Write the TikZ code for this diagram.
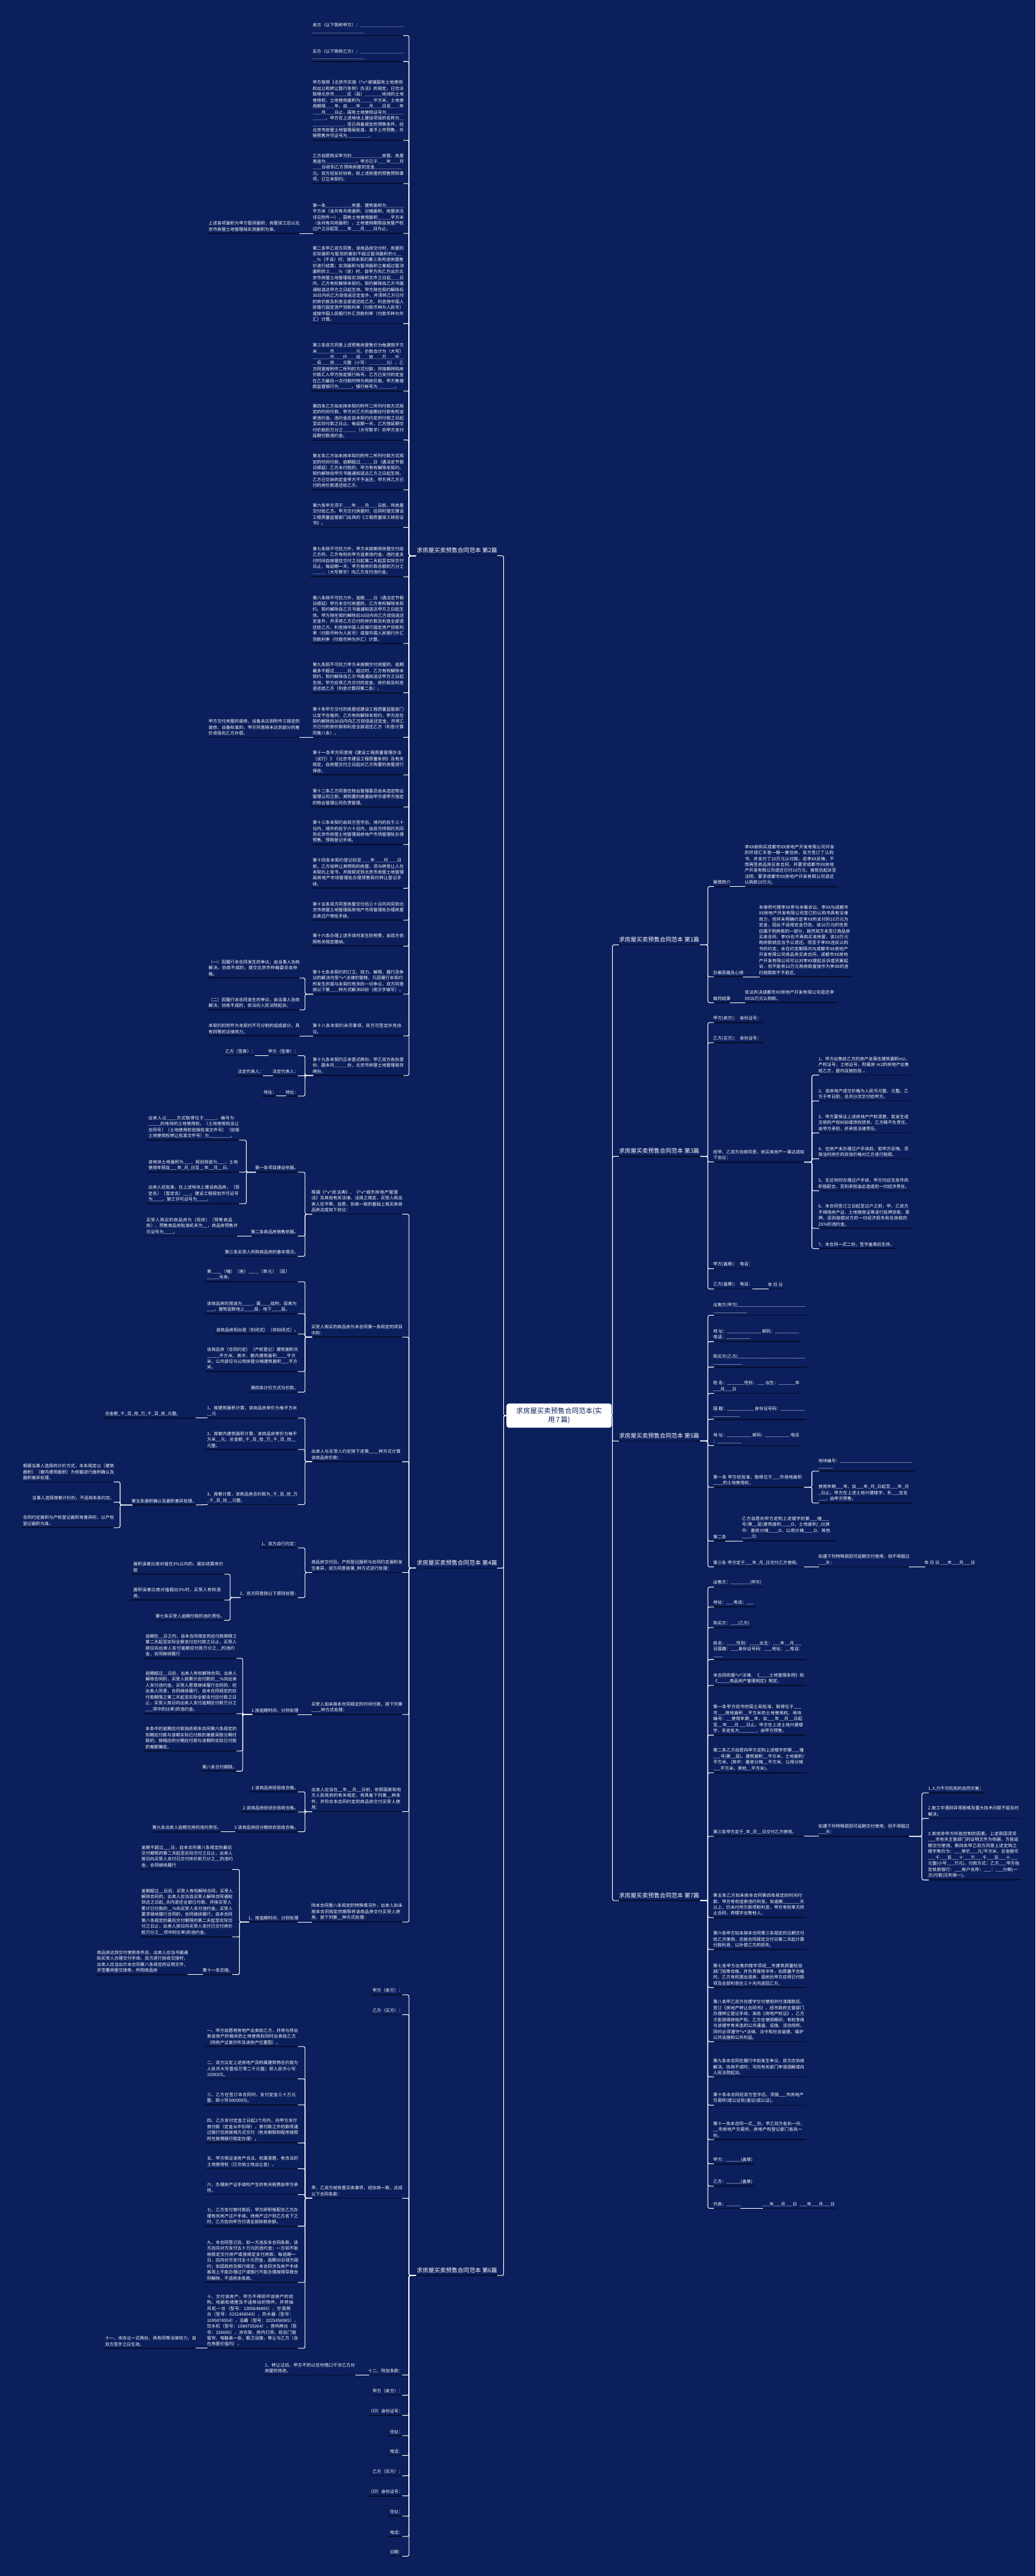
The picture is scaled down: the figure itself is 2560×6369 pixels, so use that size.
\documentclass[tikz,border=0pt]{standalone}
\usepackage{fontspec}
\newfontfamily\cjk{Noto Sans CJK SC}
\XeTeXlinebreaklocale "zh"
\XeTeXlinebreakskip=0pt plus 1pt
\definecolor{bg}{RGB}{11,31,92}
\definecolor{ul}{RGB}{5,13,44}
\tikzset{
 leaf/.style={font=\cjk\fontsize{10.7}{14.7}\selectfont, text=white, inner xsep=4pt, inner ysep=5pt, align=left},
 tw/.style={text width=226pt},
 sec/.style={font=\cjk\fontsize{14.4}{17}\selectfont, text=white, inner xsep=8pt, inner ysep=6pt},
 rootbox/.style={fill=white, text=bg, rounded corners=6pt, font=\cjk\fontsize{17}{22}\selectfont, text width=224pt, align=center, inner xsep=18pt, inner ysep=10pt},
 uline/.style={draw=ul, line width=2.6pt},
 conn/.style={draw=white, line width=1.6pt, rounded corners=4pt},
}
\newcommand\RLeaf[5][]{\node[leaf,anchor=south west,#1] (#2) at (#3,#4) {#5};\draw[uline] (#2.south west) -- (#2.south east);}
\newcommand\LLeaf[5][]{\node[leaf,anchor=south east,#1] (#2) at (#3,#4) {#5};\draw[uline] (#2.south west) -- (#2.south east);}
\newcommand\ConR[3]{\foreach \kid in {#3}{\draw[conn] ([xshift=-6pt]#1.south east) -- (#1.south east -| #2) |- ([xshift=6pt]\kid.south west);}}
\newcommand\ConL[3]{\foreach \kid in {#3}{\draw[conn] ([xshift=6pt]#1.south west) -- (#1.south west -| #2) |- ([xshift=-6pt]\kid.south east);}}
\newcommand\ConDR[2]{\draw[conn] ([xshift=-6pt]#1.south east) -- ([xshift=6pt]#2.south west);}
\newcommand\ConDL[2]{\draw[conn] ([xshift=6pt]#1.south west) -- ([xshift=-6pt]#2.south east);}
\AtBeginDocument{\catcode`\_=12 \catcode`\^=12 }
\begin{document}
\begin{tikzpicture}[x=1pt,y=-1pt]
\fill[bg] (0,0) rectangle (2560,6369);
\useasboundingbox (0,0) rectangle (2560,6369);
% buses
\coordinate (bL) at (1245,0);
\coordinate (bR) at (1514,0);
\coordinate (bLL) at (1011,0);
\coordinate (bLm) at (754,0);
\coordinate (bRR) at (1750,0);
\coordinate (bRm) at (2007,0);
\coordinate (bA1) at (609,0);
\coordinate (bC3) at (297,0);
\coordinate (bD2) at (569,0);
\coordinate (bE1) at (600,0);
\coordinate (bG1) at (592,0);
\coordinate (bG3) at (2279,0);

% root
\node[rootbox] (root) at (1382,3500) {求房屋买卖预售合同范本(实\\用7篇)};

% section nodes
\node[sec,anchor=south east] (s2) at (1237,1374) {求房屋买卖预售合同范本 第2篇};
\draw[uline] (s2.south west) -- (s2.south east);
\node[sec,anchor=south east] (s4) at (1237,3877) {求房屋买卖预售合同范本 第4篇};
\draw[uline] (s4.south west) -- (s4.south east);
\node[sec,anchor=south east] (s6) at (1237,5626) {求房屋买卖预售合同范本 第6篇};
\draw[uline] (s6.south west) -- (s6.south east);
\node[sec,anchor=south west] (s1) at (1522,2336) {求房屋买卖预售合同范本 第1篇};
\draw[uline] (s1.south west) -- (s1.south east);
\node[sec,anchor=south west] (s3) at (1522,2859) {求房屋买卖预售合同范本 第3篇};
\draw[uline] (s3.south west) -- (s3.south east);
\node[sec,anchor=south west] (s5) at (1522,3563) {求房屋买卖预售合同范本 第5篇};
\draw[uline] (s5.south west) -- (s5.south east);
\node[sec,anchor=south west] (s7) at (1522,4699) {求房屋买卖预售合同范本 第7篇};
\draw[uline] (s7.south west) -- (s7.south east);

% ===== section 2 =====
\LLeaf[tw]{A1}{1003}{88}{卖方（以下简称甲方）：＿＿＿＿＿＿＿＿＿＿＿＿＿＿＿＿＿＿＿＿＿＿}
\LLeaf[tw]{A2}{1003}{152}{买方（以下简称乙方）：＿＿＿＿＿＿＿＿＿＿＿＿＿＿＿＿＿＿＿＿＿＿}
\LLeaf[tw]{A3}{1003}{347}{甲方按照《北京市实施〈^v^城镇国有土地使用权出让和转让暂行条例〉办法》的规定，已合法取得北京市＿＿＿区（县）＿＿＿＿地块的土地使用权，土地使用面积为＿＿＿平方米，土地使用期限＿＿年，自＿＿年＿＿月＿＿日至＿＿年＿＿月＿＿日止，国有土地使用证号为＿＿＿＿＿＿＿。甲方在上述地块上建设项目的名称为＿＿＿＿＿＿＿＿，现已具备规定的预售条件，经北京市房屋土地管理局批准，准予上市预售，外销预售许可证号为＿＿＿＿＿。}
\LLeaf[tw]{A4}{1003}{454}{乙方自愿购买甲方的＿＿＿＿＿＿＿房屋，房屋用途为＿＿＿＿＿＿＿。甲方已于＿＿年＿＿月＿＿日收到乙方预购房屋的定金＿＿＿＿＿＿元。双方经友好协商，就上述房屋的预售预购事项，订立本契约。}
\LLeaf[tw]{A5}{1003}{577}{第一条＿＿＿＿＿＿房屋，建筑面积为＿＿＿＿平方米（含共有共用面积、分摊面积、房屋状况详见附件一），国有土地使用面积＿＿＿平方米（含共有共用面积），土地使用期限自房屋产权过户之日起至＿＿年＿＿月＿＿日为止。}
\LLeaf[tw]{A5a}{746}{577}{上述各项面积为甲方暂测面积，房屋竣工后以北京市房屋土地管理局实测面积为准。}
\LLeaf[tw]{A6}{1003}{800}{第二条甲乙双方同意，该商品房交付时，房屋的实际面积与暂测的差别不超过暂测面积的±＿＿\%（不含）时，按照本契约第三条所述房屋售价进行结算；实测面积与暂测面积之差超过暂测面积的±＿＿\%（含）时，自甲方向乙方出示北京市房屋土地管理局实测面积文件之日起＿＿日内，乙方有权解除本契约。契约解除自乙方书面通知送达甲方之日起生效。甲方除在契约解除后30日内向乙方双倍返还定金外，并须将乙方已付的房价款及利息全部退还给乙方。利息按中国人民银行固定资产贷款利率（付款币种为人民币）或按中国人民银行外汇贷款利率（付款币种为外汇）计算。}
\LLeaf[tw]{A7}{1003}{967}{第三条双方同意上述预售房屋售价为每建筑平方米＿＿＿币＿＿＿＿＿元，价款合计为（大写）＿＿＿＿币＿＿仟＿＿佰＿＿拾＿＿万＿＿仟＿＿佰＿＿拾＿＿元整（小写：＿＿＿＿元）。乙方同意按附件二所列的方式付款，并按期将购房价款汇入甲方指定银行帐号。乙方已支付的定金在乙方最后一次付款时转为购房价款。甲方售楼款监管银行为＿＿＿，银行帐号为＿＿＿＿。}
\LLeaf[tw]{A8}{1003}{1088}{第四条乙方如未按本契约附件二所列付款方式规定的时间付款，甲方对乙方的逾期应付款有权追索违约金。违约金应自本契约约定的付款之日起至实际付款之日止。每延期一天，乙方按延期交付价款的万分之＿＿＿（大写数字）向甲方支付延期付款违约金。}
\LLeaf[tw]{A9}{1003}{1211}{第五条乙方如未按本契约附件二所列付款方式规定的时间付款，逾期超过＿＿＿日（遇法定节假日顺延）乙方未付款的，甲方有权解除本契约。契约解除自甲方书面通知送达乙方之日起生效。乙方已交纳的定金甲方不予返还。甲方将乙方已付的房价款退还给乙方。}
\LLeaf[tw]{A10}{1003}{1304}{第六条甲方须于＿＿年＿＿月＿＿日前，将房屋交付给乙方。甲方交付房屋时，应同时提交建设工程质量监管部门出具的《工程质量竣工核验证书》。}
\LLeaf[tw]{A11}{1003}{1426}{第七条除不可抗力外，甲方未按期将房屋交付给乙方的，乙方有权向甲方追索违约金。违约金支付时间自房屋应交付之日起第二天起至实际交付日止，每延期一天，甲方按房价款总额的万分之＿＿＿（大写数字）向乙方支付违约金。}
\LLeaf[tw]{A12}{1003}{1591}{第八条除不可抗力外，逾期＿＿日（遇法定节假日顺延）甲方未交付房屋的，乙方有权解除本契约。契约解除自乙方书面通知送达甲方之日起生效。甲方除在契约解除后30日内向乙方双倍返还定金外，并须将乙方已付的房价款及利息全部退还给乙方。利息按中国人民银行固定资产贷款利率（付款币种为人民币）或按中国人民银行外汇贷款利率（付款币种为外汇）计算。}
\LLeaf[tw]{A13}{1003}{1713}{第九条因不可抗力甲方未按期交付房屋的，逾期最多不超过＿＿＿日，超过时，乙方有权解除本契约，契约解除自乙方书面通知送达甲方之日起生效。甲方应将乙方交付的定金、房价款及利息退还给乙方（利息计算同第二条）。}
\LLeaf[tw]{A14}{1003}{1823}{第十条甲方交付的房屋经建设工程质量监管部门认定不合格的，乙方有权解除本契约，甲方应在契约解除后30日内向乙方双倍返还定金，并将乙方已付的房价款和利息全部退还乙方（利息计算同第八条）。}
\LLeaf[tw]{A14a}{746}{1823}{甲方交付房屋的装修、设备未达到附件三规定的装修、设备标准的，甲方同意按未达到部分的差价双倍向乙方补偿。}
\LLeaf[tw]{A15}{1003}{1916}{第十一条甲方同意按《建设工程质量管理办法（试行）》《北京市建设工程质量条例》及有关规定，自房屋交付之日起对乙方购置的房屋进行保修。}
\LLeaf[tw]{A16}{1003}{1995}{第十二条乙方同意在物业管理委员会未选定物业管理公司之前，其购置的房屋由甲方或甲方指定的物业管理公司负责管理。}
\LLeaf[tw]{A17}{1003}{2088}{第十三条本契约由双方签字后，境内的应于三十日内，境外的应于六十日内，由双方持契约共同到北京市房屋土地管理局房地产市场管理处办理预售、预购登记手续。}
\LLeaf[tw]{A18}{1003}{2196}{第十四条本契约登记后至＿＿年＿＿月＿＿日前，乙方如转让其预购的房屋，须与转受让人在本契约上背书，并按规定到北京市房屋土地管理局房地产市场管理处办理预售契约转让登记手续。}
\LLeaf[tw]{A19}{1003}{2275}{第十五条双方同意房屋交付后三十日内共同到北京市房屋土地管理局房地产市场管理处办理房屋买卖过户审批手续。}
\LLeaf[tw]{A20}{1003}{2339}{第十六条办理上述手续时发生的税费，由双方依照有关规定缴纳。}
\LLeaf[tw]{A21}{1003}{2458}{第十七条本契约的订立、效力、解释、履行及争议的解决均受^v^法律的管辖，凡因履行本契约所发生的或与本契约有关的一切争议，双方同意按以下第＿＿种方式解决纠纷（用汉字填写）。}
\LLeaf[tw]{A21a}{746}{2418}{（一）因履行本合同发生的争议，由当事人协商解决，协商不成的，提交北京市仲裁委员会仲裁。}
\LLeaf[tw]{A21b}{746}{2497}{（二）因履行本合同发生的争议，由当事人协商解决，协商不成的，依法向人民法院起诉。}
\LLeaf[tw]{A22}{1003}{2561}{第十八条本契约未尽事项，双方可签定补充协议。}
\LLeaf[tw]{A22a}{746}{2561}{本契约的附件为本契约不可分割的组成部分，具有同等的法律效力。}
\LLeaf[tw]{A23}{1003}{2659}{第十九条本契约正本壹式两份，甲乙双方各执壹份，副本共＿＿＿份，北京市房屋土地管理局存两份。}
\LLeaf{A23a}{742}{2610}{甲方（签章）：}
\LLeaf{A23a1}{636}{2610}{乙方（签章）：}
\LLeaf{A23b}{742}{2660}{法定代表人：}
\LLeaf{A23b1}{656}{2660}{法定代表人：}
\LLeaf{A23c}{742}{2710}{地址：}
\LLeaf{A23c1}{688}{2710}{地址：}

% ===== section 4 =====
\LLeaf[tw]{Ba}{1000}{3002}{根据《^v^民法典》、《^v^城市房地产管理法》及其他有关法律、法规之规定，买受人和出卖人在平等、自愿、协商一致的基础上就买卖商品房达成如下协议：}
\LLeaf{Ba1}{742}{2898}{第一条项目建设依据。}
\LLeaf[tw]{Ba1x}{597}{2819}{出卖人以____方式取得位于_____、编号为_____的地块的土地使用权。〔土地使用权出让合同号〕〔土地使用权划拨批准文件号〕〔划拨土地使用权转让批准文件号〕为_________。}
\LLeaf[tw]{Ba1y}{597}{2898}{该地块土地面积为___，规划用途为___，土地使用年限自___年_月_日至__年__月__日。}
\LLeaf[tw]{Ba1z}{597}{2976}{出卖人经批准，在上述地块上建设商品房，〔现定名〕〔暂定名〕___。建设工程规划许可证号为____，施工许可证号为____。}
\LLeaf{Ba2}{742}{3056}{第二条商品房销售依据。}
\LLeaf[tw]{Ba2x}{592}{3056}{买受人购买的商品房为〔现房〕〔预售商品房〕。预售商品房批准机关为__，商品房预售许可证号为____。}
\LLeaf{Ba3}{742}{3106}{第三条买受人所购商品房的基本情况。}
\LLeaf[tw]{Bb}{1000}{3306}{买受人购买的商品房为本合同第一条规定的项目中的：}
\LLeaf[tw]{Bb1}{742}{3169}{第____〔幢〕〔座〕____〔单元〕〔层〕_____号房。}
\LLeaf[tw]{Bb2}{742}{3248}{该商品房的用途为____，属____结构，层高为___，建筑层数地上____层，地下____层。}
\LLeaf{Bb3}{742}{3298}{该商品房阳台是〔封闭式〕〔非封闭式〕。}
\LLeaf[tw]{Bb4}{742}{3391}{该商品房〔合同约定〕〔产权登记〕建筑面积共_____平方米，其中，套内建筑面积____平方米，公共部位与公用房屋分摊建筑面积___平方米。}
\LLeaf{Bb5}{742}{3442}{第四条计价方式与价款。}
\LLeaf[tw]{Bc}{1000}{3614}{出卖人与买受人约定按下述第____种方式计算该商品房价款：}
\LLeaf[tw]{Bc1}{742}{3506}{1、按建筑面积计算，该商品房单价为每平方米__元}
\LLeaf[tw]{Bc1x}{490}{3506}{总金额_千_百_拾_万_千_百_拾_元整。}
\LLeaf[tw]{Bc2}{742}{3584}{2、按套内建筑面积计算，该商品房单价为每平方米__元，总金额_千_百_拾_万_千_百_拾__元整。}
\LLeaf[tw]{Bc3}{742}{3720}{3、按套计算，该商品房总价款为_千_百_拾_万_千_百_拾__元整。}
\LLeaf{Bc3x}{490}{3721}{第五条面积确认及面积差异处理。}
\LLeaf[tw]{Bc3x1}{287}{3664}{根据当事人选择的计价方式，本条规定以〔建筑面积〕〔套内建筑面积〕为依据进行面积确认及面积差异处理。}
\LLeaf{Bc3x2}{287}{3714}{当事人选择按套计价的，不适用本条约定。}
\LLeaf[tw]{Bc3x3}{287}{3777}{合同约定面积与产权登记面积有差异的，以产权登记面积为准。}
\LLeaf[tw]{Bd}{1000}{3888}{商品房交付后，产权登记面积与合同约定面积发生差异，双方同意按第_种方式进行处理：}
\LLeaf{Bd1}{742}{3827}{1、双方自行约定：}
\LLeaf{Bd2}{742}{3950}{2、双方同意按以下原则处理：}
\LLeaf[tw]{Bd2a}{560}{3892}{面积误差比绝对值在3\%以内的，据实结算房价款}
\LLeaf[tw]{Bd2b}{560}{3956}{面积误差比绝对值超出3\%时，买受人有权退房。}
\LLeaf{Bd2c}{560}{4006}{第七条买受人逾期付款的违约责任。}
\LLeaf[tw]{Be}{1000}{4239}{买受人如未按本合同规定的时间付款，按下列第____种方式处理：}
\LLeaf{Be1}{742}{4239}{1.按逾期时间，分别处理}
\LLeaf[tw]{Be1a}{590}{4100}{逾期在__日之内，自本合同规定的应付款期限之第二天起至实际全额支付应付款之日止，买受人按日向出卖人支付逾期应付款万分之__的违约金，合同继续履行}
\LLeaf[tw]{Be1b}{590}{4237}{逾期超过__日后，出卖人有权解除合同。出卖人解除合同的，买受人按累计应付款的__\%向出卖人支付违约金。买受人愿意继续履行合同的，经出卖人同意，合同继续履行，自本合同规定的应付款期限之第二天起至实际全额支付应付款之日止，买受人按日向出卖人支付逾期应付款万分之___项中的比率)的违约金。}
\LLeaf[tw]{Be1c}{590}{4329}{本条中的逾期应付款指依照本合同第六条规定的到期应付款与该期实际已付款的差额采取分期付款的，按相应的分期应付款与该期的实际已付款的差额确定。}
\LLeaf{Be1d}{590}{4379}{第八条交付期限。}
\LLeaf[tw]{Bf}{1000}{4479}{出卖人应当在__年__月__日前，依照国家和地方人民政府的有关规定，将具备下列第__种条件，并符合本合同约定的商品房交付买受人使用：}
\LLeaf{Bf1}{742}{4430}{1.该商品房经验收合格。}
\LLeaf{Bf2}{742}{4480}{2.该商品房经综合验收合格。}
\LLeaf{Bf3}{742}{4529}{3.该商品房经分期综合验收合格。}
\LLeaf{Bf3x}{552}{4529}{第九条出卖人逾期交房的违约责任。}
\LLeaf[tw]{Bg}{1000}{4752}{除本合同第八条规定的特殊情况外，出卖人如未按本合同规定的期限将该商品房交付买受人使用，按下列第__种方式处理：}
\LLeaf{Bg1}{742}{4752}{1、按逾期时间，分别处理}
\LLeaf[tw]{Bg1a}{580}{4622}{逾期不超过___日，自本合同第八条规定的最后交付期限的第二天起至实际交付之日止，出卖人按日向买受人支付已交付房价款万分之__的违约金，合同继续履行}
\LLeaf[tw]{Bg1b}{580}{4789}{逾期超过__日后，买受人有权解除合同。买受人解除合同的，出卖人应当自买受人解除合同通知到达之日起_天内退还全部已付款，并按买受人累计已付款的__\%向买受人支付违约金。买受人要求继续履行合同的，合同继续履行，自本合同第八条规定的最后交付期限的第二天起至实际交付之日止，出卖人按日向买受人支付已交付房价款万分之__项中的比率)的违约金。}
\LLeaf{Bg1c}{580}{4882}{第十一条交接。}
\LLeaf[tw]{Bg1cx}{470}{4882}{商品房达到交付使用条件后，出卖人应当书面通知买受人办理交付手续。双方进行验收交接时，出卖人应当出示本合同第八条规定的证明文件，并签署房屋交接单。所购商品房}

% ===== section 6 =====
\LLeaf{Ca}{1000}{4932}{甲方（卖方）：}
\LLeaf{Cb}{1000}{4981}{乙方（买方）：}
\LLeaf[tw]{Cc}{1000}{5435}{甲、乙双方就房屋买卖事项，经协商一致，达成以下合同条款：}
\LLeaf[tw]{Cc1}{742}{5060}{一、甲方自愿将房地产出卖给乙方，并将与所出卖该房产的相关的土地使用权同时出卖给乙方（附房产证复印件及该房产位置图）。}
\LLeaf[tw]{Cc2}{742}{5140}{二、双方议定上述房地产及附属建筑物总价款为人民币大写壹佰万零二千元整；即人民币小写100XX元。}
\LLeaf[tw]{Cc3}{742}{5204}{三、乙方在签订本合同时，支付定金三十万元整，即小写300000元。}
\LLeaf[tw]{Cc4}{742}{5298}{四、乙方支付定金之日起2个月内，向甲方支付首付款（定金从中扣除），首付款之外的款项通过银行住房按揭方式交付（有关期限和程序按照所在按揭银行规定办理）。}
\LLeaf[tw]{Cc5}{742}{5362}{五、甲方保证该房产合法、权属清楚、有合法的土地使用权（已交纳土地出让金）。}
\LLeaf[tw]{Cc6}{742}{5426}{六、办理房产证手续所产生的有关税费由甲方承担。}
\LLeaf[tw]{Cc7}{742}{5504}{七、乙方支付首付款后，甲方即积极配合乙方办理有关房产过户手续，待房产过户到乙方名下之时，乙方应向甲方付清全部房款余额。}
\LLeaf[tw]{Cc8}{742}{5643}{九、本合同签订后，如一方违反本合同条款，该方应向对方支付五十万元的违约金；一方如不能按规定交付房产或按规定支付房款，每逾期一日，应向对方支付五十元罚金，逾期30日视为毁约；如因政府及银行规定，本合同涉及房产手续客观上不能办理过户或银行不能办理按揭导致合同解除，不适用本条款。}
\LLeaf[tw]{Cc9}{742}{5806}{十、交付该房产，甲方不得损坏该房产的结构、地面和墙壁及不适移动的物件，并将抽风机一台（型号：1005648485），空调两台（型号：0152468549），热水器（型号：1095874554），浴霸（型号：1025456985），饮水机（型号：1084759264），音响两台（型号：258695），凉衣架，房内灯具，前后门窗窗帘、电脑桌一张，橱卫设施，等让与乙方（含在房屋价值内）。}
\LLeaf[tw]{Cc9x}{490}{5806}{十一、本协议一式两份，具有同等法律效力，自双方签字之日生效。}
\LLeaf{Cd}{1000}{5872}{十二、附加条款：}
\LLeaf[tw]{Cdx}{885}{5872}{1、转让过后，甲方不的以任何借口干涉乙方对房屋的修改。}
\LLeaf{Ce}{1000}{5922}{甲方（卖方）：}
\LLeaf{Cf}{1000}{5972}{（印）身份证号：}
\LLeaf{Cg}{1000}{6022}{住址：}
\LLeaf{Ch}{1000}{6071}{电话：}
\LLeaf{Ci}{1000}{6121}{乙方（买方）：}
\LLeaf{Cj}{1000}{6171}{（印）身份证号：}
\LLeaf{Ck}{1000}{6221}{住址：}
\LLeaf{Cl}{1000}{6271}{电话：}
\LLeaf{Cm}{1000}{6320}{日期：}

% ===== section 1 =====
\RLeaf{Da}{1759}{2192}{案情简介}
\RLeaf[tw]{Dax}{1837}{2192}{李XX欲购买成都市XX房地产开发有限公司开发的环球汇天誉一期一套住房，双方签订了认购书，并支付了10万元认付款。后李XX反悔，不想再签商品房买卖合同，并要求成都市XX房地产开发有限公司退还已付10万元，被拒后起诉至法院，要求成都市XX房地产开发有限公司退还认购款10万元。}
\RLeaf{Db}{1759}{2415}{办案思路及心得}
\RLeaf[tw]{Dbx}{1872}{2415}{本律师代理李XX参与本案诉讼。李XX与成都市XX房地产开发有限公司签订的认购书具有法律效力，但并未明确约定李XX所支付的10万元为定金，因此不适用定金罚则，该10万元的性质应属于购房款的一部分，既然双方未签订商品房买卖合同，李XX也不再购买该房屋，该10万元购房款就应当予以退还。而至于李XX违反认购书的约定，未在约定期限内与成都市XX房地产开发有限公司商品房买卖合同，成都市XX房地产开发有限公司可以对李XX提起反诉或另案起诉，但不能将10万元购房款直接作为李XX的违约赔偿款不予退还。}
\RLeaf{Dc}{1759}{2479}{裁判结果}
\RLeaf[tw]{Dcx}{1837}{2479}{依法判决成都市XX房地产开发有限公司退还李XX10万元认购款。}

% ===== section 3 =====
\RLeaf{Ea}{1759}{2528}{甲方(卖方)：\ \ 身份证号：}
\RLeaf{Eb}{1759}{2578}{乙方(买方)：\ \ 身份证号：}
\RLeaf[tw]{Ec}{1759}{2873}{经甲、乙双方协商同意，就买卖房产一事达成如下协议：}
\RLeaf[tw]{Ec1}{2019}{2658}{1、甲方出售给乙方的房产坐落在建筑面积m2，产权证号，土地证号，附属房 m2的房地产出售给乙方，屋内设施包括 。}
\RLeaf[tw]{Ec2}{2019}{2722}{2、该房地产成交价格为人民币元整，元整。乙方于年日前，总共分次交付给甲方。}
\RLeaf[tw]{Ec3}{2019}{2801}{3、甲方要保证上述房地产产权清楚，若发生成交前的产权纠纷或债权债务，乙方概不负责任，由甲方承担，并承担法律责任。}
\RLeaf[tw]{Ec4}{2019}{2865}{4、在房产未办理过户手续前，若甲方反悔，须按当时房价的双倍价格对乙方进行赔偿。}
\RLeaf[tw]{Ec5}{2019}{2944}{5、无论何时办理过户手续，甲方均应无条件的积极配合，否则承担由此造成的一切经济责任。}
\RLeaf[tw]{Ec6}{2019}{3037}{6、本合同签订之日起至过户之前，甲、乙双方不得用房产证、土地使用证等进行抵押贷款、质押。否则赔偿对方的一切经济损失和总房款的25\%的违约金。}
\RLeaf{Ec7}{2019}{3087}{7、本合同一式二份，签字盖章后生效。}
\RLeaf{Ed}{1759}{3137}{甲方(盖章)：\ \ 电话：}
\RLeaf{Ee}{1759}{3187}{乙方(盖章)：\ \ 电话：}
\RLeaf{Eex}{1894}{3187}{年 月 日}

% ===== section 5 =====
\RLeaf{Fa}{1759}{3252}{出售方(甲方)____________________________\\______________}
\RLeaf{Fb}{1759}{3317}{地 址：______________ 邮码：__________\\电话：__________}
\RLeaf{Fc}{1759}{3380}{购买方(乙方)____________________________\\____________}
\RLeaf{Fd}{1759}{3445}{姓 名：_______性别：___ 出生：_______年\\___月___日}
\RLeaf{Fe}{1759}{3509}{国 籍：___________ 身份证号码：__________\\___________}
\RLeaf{Ff}{1759}{3574}{地 址：__________ 邮码：__________ 电话\\：__________}
\RLeaf[tw]{Fg}{1759}{3677}{第一条 甲方经批准，取得位于___市用地面积____的土地使用权。}
\RLeaf{Fg1}{2019}{3637}{地块编号：______________________________\\______}
\RLeaf[tw]{Fg2}{2019}{3716}{使用年期___年，自___年_月_日起至___年_月_日止。甲方在上述土地兴建楼宇，系___定名___，由甲方预售。}
\RLeaf{Fh}{1759}{3810}{第二条}
\RLeaf[tw]{Fhx}{1830}{3810}{乙方自愿向甲方定购上述楼宇的第___幢___号(第__层)建筑面积____O，土地面积/_O(其中：基底分摊____O、公用分摊____O、其他____O)}
\RLeaf[tw]{Fi}{1759}{3874}{第三条 甲方定于___年_月_日交付乙方使用。}
\RLeaf[tw]{Fix}{2019}{3874}{如遇下列特殊原因可延期交付使用，但不得超过___天：}
\RLeaf{Fixx}{2281}{3874}{年 月 日 ___年___月___日}

% ===== section 7 =====
\RLeaf{Ga}{1759}{3924}{出售方：________(甲方)}
\RLeaf{Gb}{1759}{3973}{地址：___电话：___}
\RLeaf{Gc}{1759}{4024}{购买方：___(乙方)}
\RLeaf[tw]{Gd}{1759}{4103}{姓名：____性别：____出生：___年__月___日国籍：___身份证号码：___地址：__电话：____}
\RLeaf[tw]{Ge}{1759}{4167}{本合同依据^v^法律、《____土地管理条例》和《_____商品房产管理规定》制定。}
\RLeaf[tw]{Gf}{1759}{4290}{第一条甲方经市府国土局批准，取得位于___市___用地面积__平方米的土地使用权。地块编号：__使用年期__年，自___年__月__日起至__年___月___日止。甲方在上述土地兴建楼宇，系定名为_______，由甲方预售。}
\RLeaf[tw]{Gg}{1759}{4383}{第二条乙方自愿向甲方定购上述楼宇的第___幢___号(第__层)。建筑面积__平方米，土地面积/平方米、(其中：基底分摊__平方米、公用分摊___平方米、其他__平方米)。}
\RLeaf[tw]{Gh}{1759}{4540}{第三条甲方定于_年_月__日交付乙方使用。}
\RLeaf[tw]{Ghx}{2019}{4540}{如遇下列特殊原因可延期交付使用，但不得超过___天：}
\RLeaf{Ghx1}{2290}{4433}{1.人力不可抗拒的自然灾害；}
\RLeaf[tw]{Ghx2}{2290}{4496}{2.施工中遇到异常困难及重大技术问题不能及时解决；}
\RLeaf[tw]{Ghx3}{2290}{4648}{3.其他非甲方所能控制的因素。上述原因须凭___市有关主管部门的证明文件为依据，方能延期交付使用。第四条甲乙双方同意上述定购之楼宇售价为：___单价___元/平方米，总金额币___千___百___十___万___千___百___十___元整(小写___万元)。付款方式：乙方___甲方指定收款银行：___帐户名称：___：___分期(一次)付款(见附表一)。}
\RLeaf[tw]{Gi}{1759}{4741}{第五条乙方如未按本合同第四条规定的时间付款，甲方有权追索违约利息。如逾期_______天以上，仍未付所欠款项和利息，甲方有权单方终止合同，将楼宇出售他人。}
\RLeaf[tw]{Gj}{1759}{4820}{第六条甲方如未按本合同第三条规定的日期交付给乙方使用，应按合同规定交付日第二天起计算付款利息，以补偿乙方的损失。}
\RLeaf[tw]{Gk}{1759}{4914}{第七条甲方出售的楼宇须经__市建筑质量检验部门验审合格，并负责保修半年，如质量不合格时，乙方有权提出退房，退房后甲方应将已付款项及全部利息在三十天内退回乙方。}
\RLeaf[tw]{Gl}{1759}{5048}{第八条甲乙双方在楼宇交付使用并付清楼款后，签订《房地产转让合同书》，经市政府主管部门办理转让登记手续，发给《房地产权证》，乙方才能获得房地产权。乙方在使用期间，有权享用与该楼宇有关连的公共通道、设施、活动场所。同时必须遵守^v^法律、法令和社会道德，维护公共设施和公共利益。}
\RLeaf[tw]{Gm}{1759}{5135}{第九条本合同在履行中如发生争议，双方应协商解决。协商不成时，可向有关部门申请调解或向人民法院起诉。}
\RLeaf[tw]{Gn}{1759}{5205}{第十条本合同经双方签字后，须报___市房地产交易所(或公证处)鉴证(或公证)。}
\RLeaf[tw]{Go}{1759}{5290}{第十一条本合同一式__份，甲乙双方各执一份，__市房地产交易所、房地产权登记部门各执一份。}
\RLeaf{Gp}{1759}{5350}{甲方：______(盖章)}
\RLeaf{Gq}{1759}{5405}{乙方：______(盖章)}
\RLeaf{Gr}{1759}{5460}{代表：______}
\RLeaf{Grx}{1880}{5460}{___年___月___日\ \ \ ___年___月___日}

% ===== connectors =====
\foreach \s in {s1,s3,s5,s7}{\draw[conn] (root.east) -- (root.east -| bR) |- ([xshift=8pt]\s.south west);}
\foreach \s in {s2,s4,s6}{\draw[conn] (root.west) -- (root.west -| bL) |- ([xshift=-8pt]\s.south east);}
% section 2
\ConL{s2}{bLL}{A1,A2,A3,A4,A5,A6,A7,A8,A9,A10,A11,A12,A13,A14,A15,A16,A17,A18,A19,A20,A21,A22,A23}
\ConDL{A5}{A5a}
\ConDL{A14}{A14a}
\ConL{A21}{bLm}{A21a,A21b}
\ConDL{A22}{A22a}
\ConL{A23}{bLm}{A23a,A23b,A23c}
\ConDL{A23a}{A23a1}
\ConDL{A23b}{A23b1}
\ConDL{A23c}{A23c1}
% section 4
\ConL{s4}{bLL}{Ba,Bb,Bc,Bd,Be,Bf,Bg}
\ConL{Ba}{bLm}{Ba1,Ba2,Ba3}
\ConL{Ba1}{bA1}{Ba1x,Ba1y,Ba1z}
\ConDL{Ba2}{Ba2x}
\ConL{Bb}{bLm}{Bb1,Bb2,Bb3,Bb4,Bb5}
\ConL{Bc}{bLm}{Bc1,Bc2,Bc3}
\ConDL{Bc1}{Bc1x}
\ConDL{Bc3}{Bc3x}
\ConL{Bc3x}{bC3}{Bc3x1,Bc3x2,Bc3x3}
\ConL{Bd}{bLm}{Bd1,Bd2}
\ConL{Bd2}{bD2}{Bd2a,Bd2b,Bd2c}
\ConDL{Be}{Be1}
\ConL{Be1}{bE1}{Be1a,Be1b,Be1c,Be1d}
\ConL{Bf}{bLm}{Bf1,Bf2,Bf3}
\ConDL{Bf3}{Bf3x}
\ConDL{Bg}{Bg1}
\ConL{Bg1}{bG1}{Bg1a,Bg1b,Bg1c}
\ConDL{Bg1c}{Bg1cx}
% section 6
\ConL{s6}{bLL}{Ca,Cb,Cc,Cd,Ce,Cf,Cg,Ch,Ci,Cj,Ck,Cl,Cm}
\ConL{Cc}{bLm}{Cc1,Cc2,Cc3,Cc4,Cc5,Cc6,Cc7,Cc8,Cc9}
\ConDL{Cc9}{Cc9x}
\ConDL{Cd}{Cdx}
% section 1
\ConR{s1}{bRR}{Da,Db,Dc}
\ConDR{Da}{Dax}
\ConDR{Db}{Dbx}
\ConDR{Dc}{Dcx}
% section 3
\ConR{s3}{bRR}{Ea,Eb,Ec,Ed,Ee}
\ConR{Ec}{bRm}{Ec1,Ec2,Ec3,Ec4,Ec5,Ec6,Ec7}
\ConDR{Ee}{Eex}
% section 5
\ConR{s5}{bRR}{Fa,Fb,Fc,Fd,Fe,Ff,Fg,Fh,Fi}
\ConR{Fg}{bRm}{Fg1,Fg2}
\ConDR{Fh}{Fhx}
\ConDR{Fi}{Fix}
\ConDR{Fix}{Fixx}
% section 7
\ConR{s7}{bRR}{Ga,Gb,Gc,Gd,Ge,Gf,Gg,Gh,Gi,Gj,Gk,Gl,Gm,Gn,Go,Gp,Gq,Gr}
\ConDR{Gh}{Ghx}
\ConR{Ghx}{bG3}{Ghx1,Ghx2,Ghx3}
\ConDR{Gr}{Grx}
\end{tikzpicture}
\end{document}
